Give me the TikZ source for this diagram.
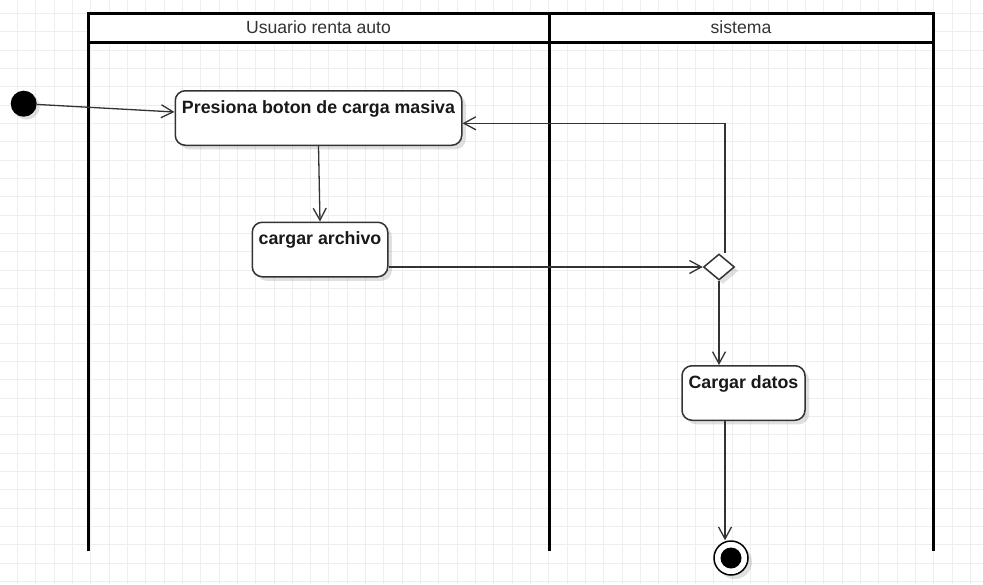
\documentclass[tikz,border=0pt]{standalone}
\usepackage{fontspec}
\setmainfont{Liberation Sans}
\usetikzlibrary{arrows.meta,shapes.geometric,shadows}
\definecolor{gridgray}{HTML}{EEEEEE}
\definecolor{inkgray}{HTML}{333333}

\begin{document}
\begin{tikzpicture}[x=1pt,y=-1pt,
  gridline/.style={draw=gridgray,line width=0.9pt},
  lane/.style={draw=black,line width=3pt},
  lanetitle/.style={font=\fontsize{17.6}{20}\selectfont,text=inkgray,inner sep=0pt},
  act/.style={draw=inkgray,line width=1.5pt,fill=white,rounded corners=10pt,
    font=\fontsize{17.8}{20}\selectfont\bfseries,text=black!90,inner sep=0pt,
    text height=22.5pt,text depth=32pt,
    drop shadow={shadow xshift=4pt,shadow yshift=-4pt,opacity=0.12,fill=black}},
  decision/.style={diamond,draw=inkgray,line width=1.5pt,fill=white,inner sep=0pt,
    minimum width=31pt,minimum height=26pt,
    drop shadow={shadow xshift=4pt,shadow yshift=-4pt,opacity=0.12,fill=black}},
  startdot/.style={circle,fill=black,inner sep=0pt,minimum size=26pt,
    drop shadow={shadow xshift=3pt,shadow yshift=-3pt,opacity=0.12,fill=black}},
  finalring/.style={circle,draw=black,line width=1.5pt,fill=white,inner sep=0pt,minimum size=34pt,
    drop shadow={shadow xshift=4pt,shadow yshift=-4pt,opacity=0.12,fill=black}},
  finaldot/.style={circle,fill=black,inner sep=0pt,minimum size=21pt},
  flow/.style={draw=inkgray,line width=1.3pt,-{Straight Barb[length=12pt,width=13pt,line width=1.3pt]}}]

\useasboundingbox (0,0) rectangle (983,584);
\fill[white] (0,0) rectangle (983,584);

\foreach \i in {1,...,53}{
\draw[gridline] ({-1+18.33*\i},0) -- ({-1+18.33*\i},584);}
\foreach \j in {0,...,31}{
\draw[gridline] (0,{13.33+18.33*\j}) -- (983,{13.33+18.33*\j});}

\fill[white] (88,13) rectangle (933,42);
\draw[lane] (88,551) -- (88,13) -- (933,13) -- (933,551);
\draw[lane] (549,13) -- (549,551);
\draw[lane] (88,42) -- (933,42);
\node[lanetitle] (laneUser) at (318.5,27.5) {Usuario renta auto};
\node[lanetitle] (laneSys) at (741,27.5) {sistema};

\node[startdot] (start) at (23.7,103.7) {};
\node[act,minimum width=286.5pt] (presiona) at (318.5,118) {Presiona boton de carga masiva};
\node[act,minimum width=135.5pt] (archivo) at (320,249.5) {cargar archivo};
\node[decision] (dec) at (719,267) {};
\node[act,minimum width=123pt] (datos) at (743.5,393) {Cargar datos};
\node[finalring] (fin) at (731,558) {};
\node[finaldot] (finDot) at (fin) {};

\draw[flow] (start) -- ([yshift=6pt]presiona.west);
\draw[flow] (presiona.south) -- (archivo.north);
\draw[flow] (archivo.east |- dec.west) -- (dec.west);
\draw[flow] ([xshift=6pt]dec.north) |- ([yshift=-5.3pt]presiona.east);
\draw[flow] (dec.south) -- (dec.south |- datos.north);
\draw[flow] ([xshift=-6pt]fin.north |- datos.south) -- ([xshift=-6pt]fin.north);

\end{tikzpicture}
\end{document}
